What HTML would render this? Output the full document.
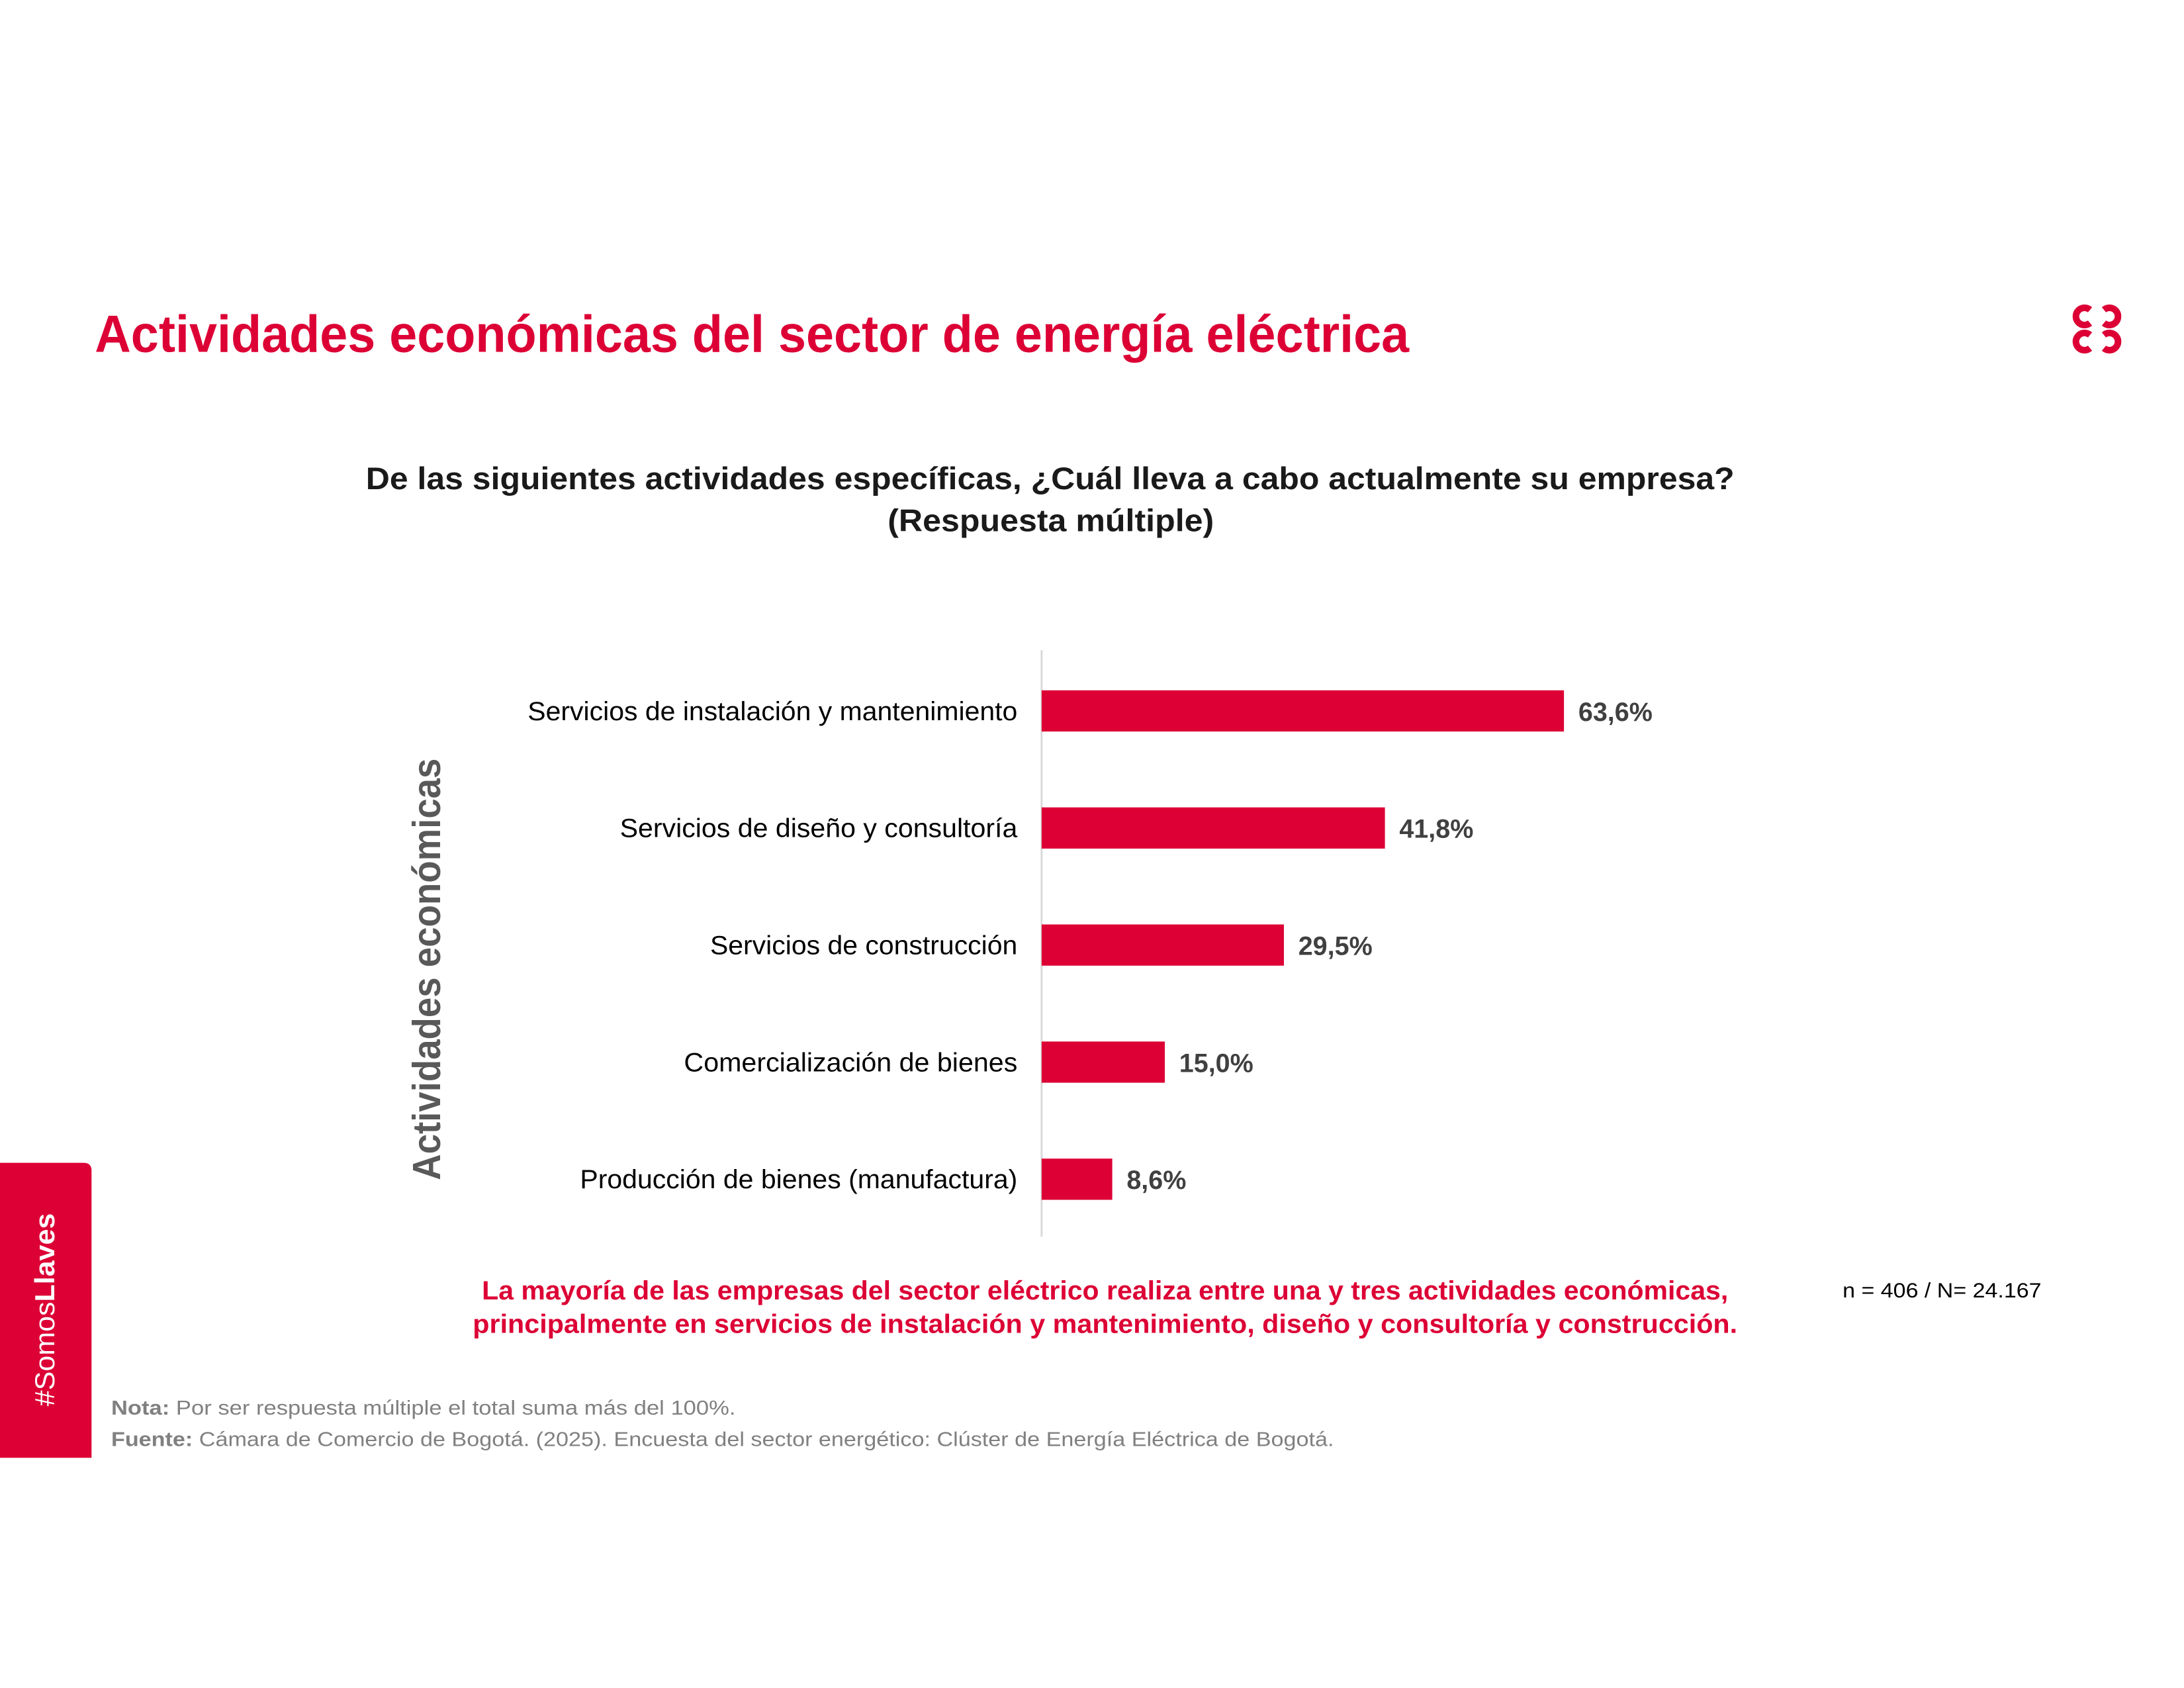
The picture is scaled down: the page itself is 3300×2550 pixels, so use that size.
<!DOCTYPE html>
<html><head><meta charset="utf-8"><style>
html,body{margin:0;padding:0;background:#fff;}
svg{display:block;}
text{font-family:"Liberation Sans",Arial,sans-serif;}
</style></head><body>
<svg id="chart" width="3300" height="2550" viewBox="0 0 3300 2550" xmlns="http://www.w3.org/2000/svg">
 <g fill="none" stroke="#DC0035" stroke-width="10">
    <path d="M3158,468 A13,13 0 1,0 3158,488"/>
    <path d="M3179,468 A13,13 0 1,1 3179,488"/>
    <path d="M3158,506 A13,13 0 1,0 3158,526"/>
    <path d="M3179,506 A13,13 0 1,1 3179,526"/>
 </g>
 <g transform="scale(0.988)">
  <text x="145" y="538" font-size="80" font-weight="bold" fill="#DC0035" textLength="2010" lengthAdjust="spacingAndGlyphs">Actividades económicas del sector de energía eléctrica</text>
  <text x="1606" y="748" font-size="48" font-weight="bold" fill="#1a1a1a" text-anchor="middle" textLength="2093" lengthAdjust="spacingAndGlyphs">De las siguientes actividades específicas, ¿Cuál lleva a cabo actualmente su empresa?</text>
  <text x="1607" y="812" font-size="48" font-weight="bold" fill="#1a1a1a" text-anchor="middle" textLength="499" lengthAdjust="spacingAndGlyphs">(Respuesta múltiple)</text>
  <text transform="translate(673,1482) rotate(-90)" font-size="60" font-weight="bold" fill="#595959" text-anchor="middle" textLength="645" lengthAdjust="spacingAndGlyphs">Actividades económicas</text>
  <line x1="1593" y1="994" x2="1593" y2="1891" stroke="#d9d9d9" stroke-width="3"/>
  <g id="bars"></g>
  <text x="1690" y="1987" font-size="40" font-weight="bold" fill="#DC0035" text-anchor="middle" textLength="1906" lengthAdjust="spacingAndGlyphs">La mayoría de las empresas del sector eléctrico realiza entre una y tres actividades económicas,</text>
  <text x="1690" y="2038" font-size="40" font-weight="bold" fill="#DC0035" text-anchor="middle" textLength="1934" lengthAdjust="spacingAndGlyphs">principalmente en servicios de instalación y mantenimiento, diseño y consultoría y construcción.</text>
  <text x="2818" y="1984" font-size="32" fill="#000" textLength="304" lengthAdjust="spacingAndGlyphs">n = 406 / N= 24.167</text>
  <path d="M0,1778 H128 Q140,1778 140,1790 V2229 H0 Z" fill="#DC0035"/>
  <text transform="translate(83,2150) rotate(-90)" font-size="42" fill="#fff" textLength="295" lengthAdjust="spacingAndGlyphs">#Somos<tspan font-weight="bold">Llaves</tspan></text>
  <text x="170" y="2163" font-size="31" fill="#808080" textLength="955" lengthAdjust="spacingAndGlyphs"><tspan font-weight="bold">Nota:</tspan> Por ser respuesta múltiple el total suma  más del 100%.</text>
  <text x="170" y="2211" font-size="31" fill="#808080" textLength="1870" lengthAdjust="spacingAndGlyphs"><tspan font-weight="bold">Fuente:</tspan> Cámara de Comercio de Bogotá. (2025). Encuesta del sector energético: Clúster de Energía Eléctrica de Bogotá.</text>
 </g>
</svg>
<script>
const categories = ["Servicios de instalación y mantenimiento","Servicios de diseño y consultoría","Servicios de construcción","Comercialización de bienes","Producción de bienes (manufactura)"];
const values = [63.6, 41.8, 29.5, 15.0, 8.6];
const valueLabels = ["63,6%","41,8%","29,5%","15,0%","8,6%"];
const labelWidths = [749, 608, 470, 510, 669];

const NS = "http://www.w3.org/2000/svg";
const x0 = 1593, pxPerUnit = 12.56, y0 = 1087, step = 179, barH = 63;
const xScale = v => x0 + v * pxPerUnit;
const yScale = i => y0 + i * step;
const g = document.getElementById('bars');
categories.forEach((c, i) => {
  const cy = yScale(i);
  const r = document.createElementNS(NS, 'rect');
  r.setAttribute('x', x0);
  r.setAttribute('y', cy - barH / 2);
  r.setAttribute('width', xScale(values[i]) - x0);
  r.setAttribute('height', barH);
  r.setAttribute('fill', '#DC0035');
  
  
  g.appendChild(r);
  const t = document.createElementNS(NS, 'text');
  t.setAttribute('x', 1556);
  t.setAttribute('y', cy + 14);
  t.setAttribute('font-size', '40');
  t.setAttribute('fill', '#000');
  t.setAttribute('text-anchor', 'end');
  t.setAttribute('textLength', labelWidths[i]);
  t.setAttribute('lengthAdjust', 'spacingAndGlyphs');
  t.textContent = c;
  
  
  g.appendChild(t);
  const v = document.createElementNS(NS, 'text');
  v.setAttribute('x', xScale(values[i]) + 22);
  v.setAttribute('y', cy + 15);
  v.setAttribute('font-size', '40');
  v.setAttribute('font-weight', 'bold');
  v.setAttribute('fill', '#404040');
  v.textContent = valueLabels[i];
  
  
  g.appendChild(v);
});
</script>
</body></html>
